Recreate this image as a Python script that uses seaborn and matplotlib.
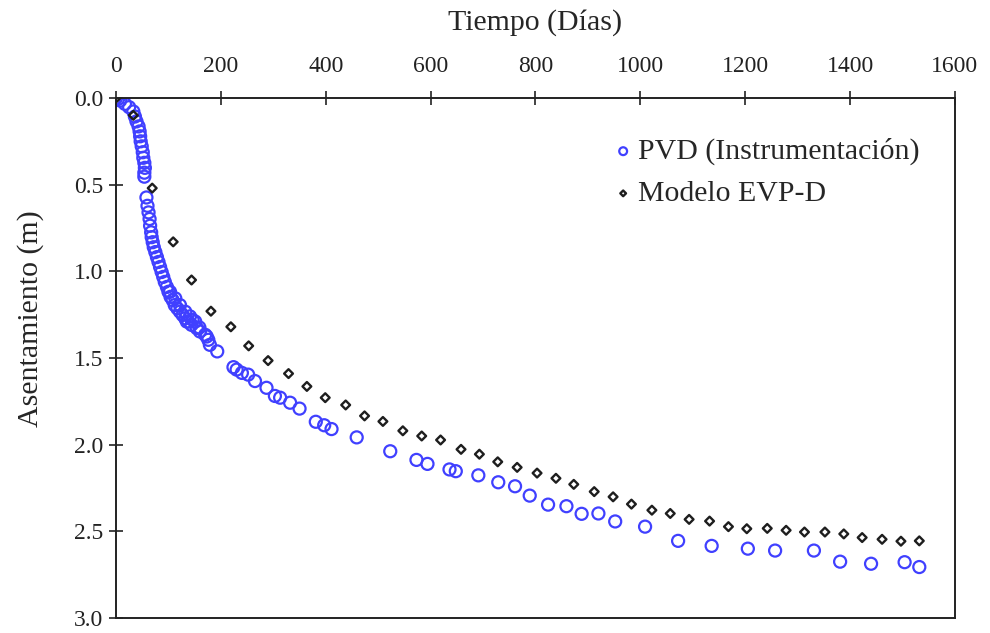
import numpy as np
import pandas as pd
import matplotlib
matplotlib.use("Agg")
import matplotlib.pyplot as plt
import seaborn as sns

# PVD (Instrumentación)
dias_pvd = [0, 4, 8, 17, 25, 33, 36, 39, 43, 45, 46, 47, 49, 51, 52, 54, 55, 54, 54,
            58, 60, 62, 64, 65, 67, 68, 70, 72, 75, 78, 81, 84, 87, 90, 93, 97, 100, 104, 108,
            112, 117, 122, 127, 132, 138, 144, 154, 160, 170, 176, 179, 193,
            103, 113, 122, 132, 141, 151, 159, 173, 135, 146,
            224, 230, 240, 252, 265, 287, 303, 313, 332, 350, 381, 397, 411, 459, 523, 573,
            594, 636, 648, 691, 729, 761, 789, 824, 859, 888, 920, 952, 1009, 1072, 1136,
            1205, 1257, 1331, 1381, 1440, 1504, 1532]
asent_pvd = [0, 0.005, 0.015, 0.034, 0.053, 0.078, 0.107, 0.135, 0.164, 0.193, 0.221, 0.25,
             0.279, 0.313, 0.345, 0.374, 0.403, 0.431, 0.454,
             0.574, 0.622, 0.66, 0.698, 0.737, 0.775, 0.803, 0.832, 0.861, 0.889, 0.918, 0.946,
             0.975, 1.004, 1.032, 1.061, 1.09, 1.118, 1.147, 1.166, 1.195, 1.214, 1.233, 1.252,
             1.271, 1.29, 1.309, 1.328, 1.347, 1.366, 1.395, 1.424, 1.462,
             1.118, 1.156, 1.195, 1.233, 1.26, 1.29, 1.324, 1.376, 1.29, 1.28,
             1.553, 1.567, 1.586, 1.596, 1.633, 1.672, 1.719, 1.729, 1.758, 1.792, 1.868, 1.888,
             1.910, 1.958, 2.038, 2.088, 2.111, 2.143, 2.153, 2.177, 2.217, 2.240, 2.294, 2.346,
             2.355, 2.399, 2.397, 2.443, 2.473, 2.555, 2.584, 2.60, 2.611, 2.611, 2.675, 2.687,
             2.678, 2.706]

# Modelo EVP-D
dias_mod = [0, 33, 69, 109, 144, 181, 219, 253, 290, 329, 364, 399, 438, 474, 509, 547, 583,
            619, 658, 693, 728, 765, 803, 839, 873, 912, 948, 983, 1022, 1057, 1093, 1132, 1168,
            1203, 1242, 1278, 1313, 1352, 1388, 1423, 1461, 1497, 1532]
asent_mod = [0, 0.10, 0.52, 0.83, 1.05, 1.23, 1.32, 1.43, 1.515, 1.59, 1.664, 1.729, 1.771,
             1.834, 1.866, 1.92, 1.95, 1.973, 2.027, 2.055, 2.099, 2.131, 2.164, 2.194, 2.229,
             2.271, 2.301, 2.343, 2.378, 2.397, 2.431, 2.441, 2.473, 2.485, 2.483, 2.494, 2.504,
             2.504, 2.515, 2.536, 2.546, 2.557, 2.555]

x_ticks = [0, 200, 400, 600, 800, 1000, 1200, 1400, 1600]
y_ticks = [0.0, 0.5, 1.0, 1.5, 2.0, 2.5, 3.0]

df_pvd = pd.DataFrame({"Dias": dias_pvd, "Asentamiento": asent_pvd})
df_mod = pd.DataFrame({"Dias": dias_mod, "Asentamiento": asent_mod})

sns.set_style("ticks")
plt.rcParams["font.family"] = ["Liberation Serif", "DejaVu Serif"]

fig = plt.figure(figsize=(9.9, 6.33), dpi=100)
ax = fig.add_axes([0.1172, 0.0237, 0.8474, 0.8215])

sns.scatterplot(data=df_pvd, x="Dias", y="Asentamiento", ax=ax, marker="o", s=75,
                facecolor="none", edgecolor="#4040ff", linewidth=1.6,
                label="PVD (Instrumentación)", zorder=2)
sns.scatterplot(data=df_mod, x="Dias", y="Asentamiento", ax=ax, marker="D", s=20,
                facecolor="none", edgecolor="#1e1e1e", linewidth=1.7,
                label="Modelo EVP-D", zorder=3)

ax.set_xlim(0, 1600)
ax.set_ylim(3.0, 0.0)
ax.set_xticks(x_ticks)
ax.set_yticks(y_ticks)
ax.set_yticklabels([f"{v:.1f}" for v in y_ticks])
ax.xaxis.tick_top()
ax.xaxis.set_label_position("top")
ax.tick_params(axis="both", direction="inout", length=10, width=1.2, labelsize=17,
               colors="#222222", pad=4)
ax.tick_params(axis="x", pad=10)
for sp in ax.spines.values():
    sp.set_visible(True)
    sp.set_linewidth(1.4)
    sp.set_color("#222222")

ax.set_xlabel("Tiempo (Días)", fontsize=21.5, labelpad=19)
ax.set_ylabel("Asentamiento (m)", fontsize=21.5)
ax.yaxis.set_label_coords(-0.086, 0.576)

leg = ax.legend(loc="upper right", bbox_to_anchor=(0.958, 0.923), frameon=False,
                fontsize=21.5, markerscale=0.65, handlelength=0.4, handletextpad=0.3,
                labelspacing=0.5, borderpad=0, borderaxespad=0)

fig.savefig("out.png", dpi=100)
